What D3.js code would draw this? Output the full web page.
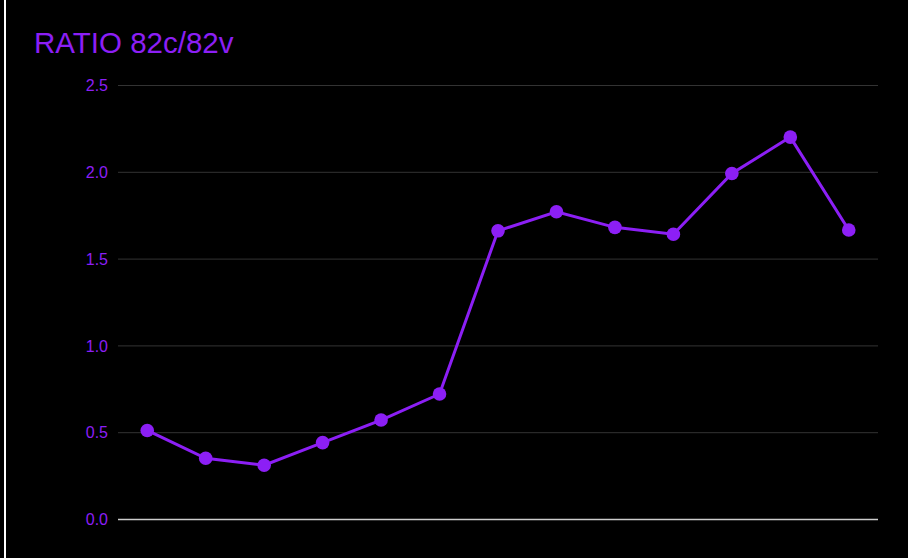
<!DOCTYPE html>
<html><head><meta charset="utf-8">
<script src="https://cdn.jsdelivr.net/npm/d3@7"></script>
<style>html,body{margin:0;padding:0;background:#000;}svg{display:block;}</style>
</head><body>
<svg id="c" width="908" height="558"></svg>
<script>
const title = "RATIO 82c/82v";
const categories = ["P1","P2","P3","P4","P5","P6","P7","P8","P9","P10","P11","P12","P13"];
const values = [0.51,0.35,0.31,0.44,0.57,0.72,1.66,1.77,1.68,1.64,1.99,2.20,1.665];
const yTicks = [0,0.5,1.0,1.5,2.0,2.5];

const svg = d3.select("#c");
const W = 908, H = 558;
const m = {l:118, r:30, t:85, b:39};
svg.append("rect").attr("width",W).attr("height",H).attr("fill","#000");
svg.append("rect").attr("x",4).attr("y",0).attr("width",2).attr("height",H).attr("fill","#fff");
const purple = "#8c1ff5";
const x = d3.scaleBand().domain(categories).range([m.l, W-m.r]);
const y = d3.scaleLinear().domain([0,2.5]).range([H-m.b, m.t]);

svg.append("text").attr("x",34).attr("y",53).attr("fill",purple)
  .style("font-family","Liberation Sans, Arial, sans-serif").style("font-size","29.5px").text(title);

const ya = svg.append("g").attr("transform",`translate(${m.l},0)`)
  .call(d3.axisLeft(y).tickValues(yTicks).tickFormat(d3.format(".1f")).tickSize(-(W-m.l-m.r)).tickPadding(10));
ya.select(".domain").remove();
ya.selectAll(".tick line").attr("stroke", d => d===0 ? "#cccccc" : "#333333").attr("stroke-width", d=> d===0?1.5:1);
ya.selectAll(".tick text").attr("fill",purple).attr("dy","0.36em")
  .style("font-size","16px").style("font-family","Liberation Sans, Arial, sans-serif");

const data = categories.map((c,i)=>({c, v:values[i]}));
const cx = d => x(d.c)+x.bandwidth()/2;
svg.append("path").datum(data)
  .attr("d", d3.line().x(cx).y(d=>y(d.v)))
  .attr("fill","none").attr("stroke",purple).attr("stroke-width",3);
svg.selectAll("circle.pt").data(data).join("circle").attr("class","pt")
  .attr("cx",cx).attr("cy",d=>y(d.v)).attr("r",6.8).attr("fill",purple);
</script>
</body></html>
